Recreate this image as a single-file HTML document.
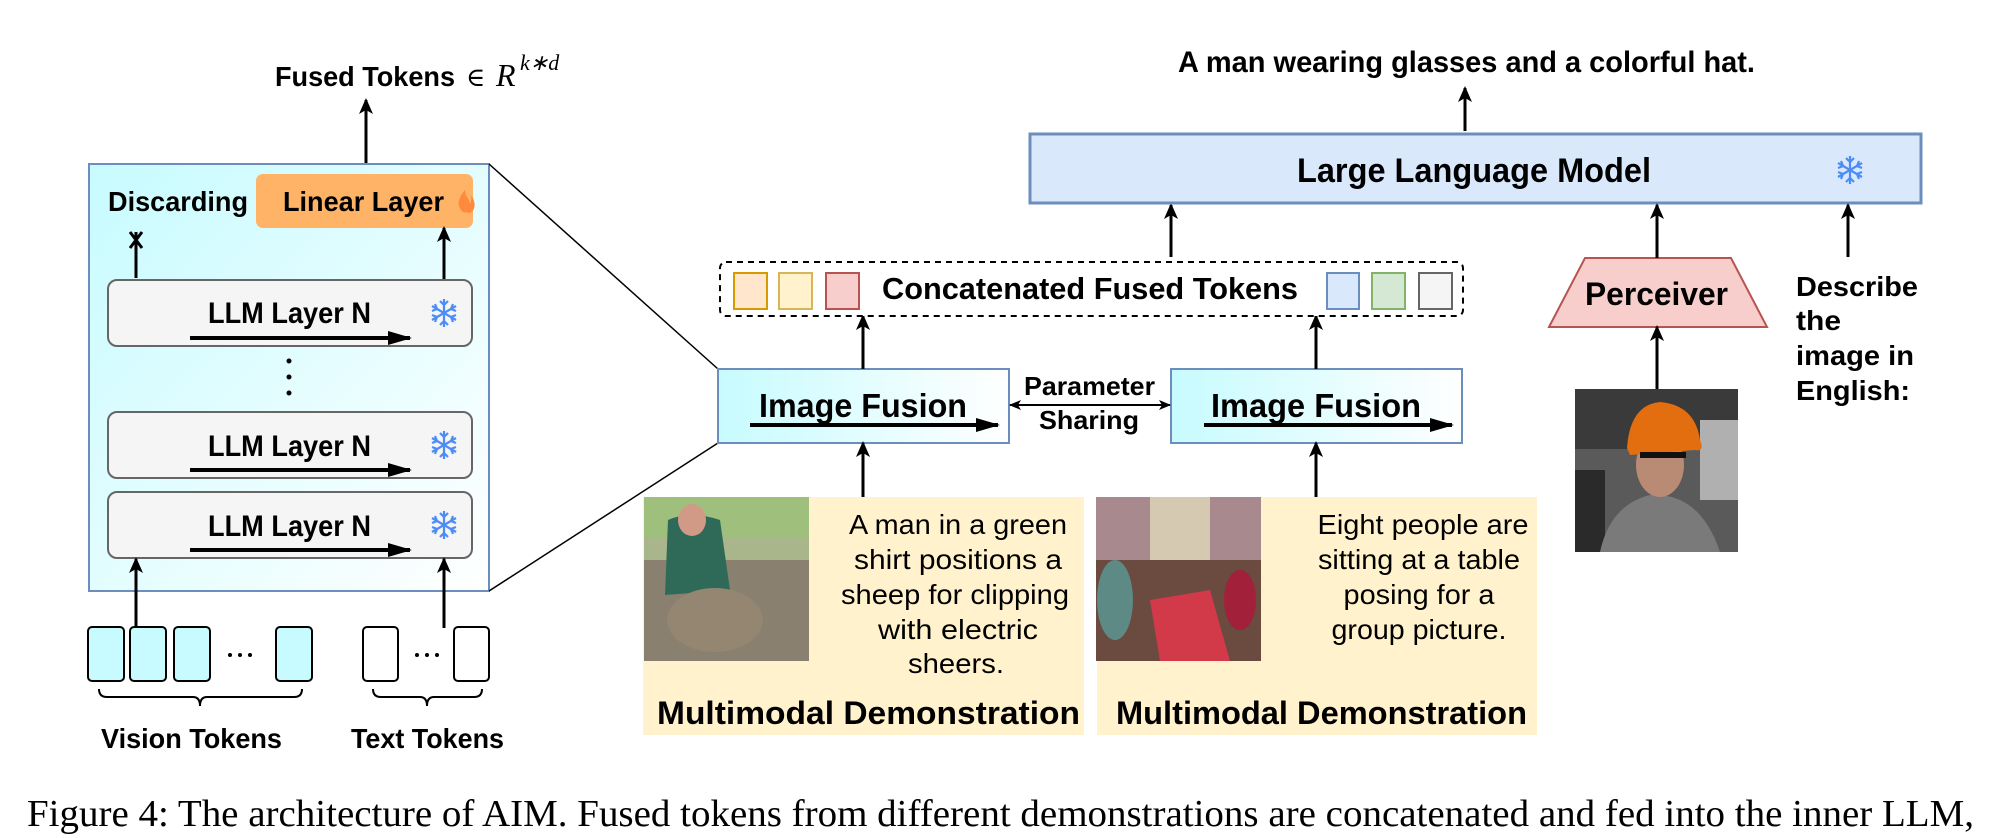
<!DOCTYPE html>
<html><head><meta charset="utf-8"><style>
html,body{margin:0;padding:0;background:#fff;}
svg{display:block;}
.b{font-family:"Liberation Sans",sans-serif;font-weight:bold;fill:#000;}
.n{font-family:"Liberation Sans",sans-serif;fill:#000;}
</style></head><body>
<svg width="2012" height="838" viewBox="0 0 2012 838" xmlns="http://www.w3.org/2000/svg">
<defs>
<marker id="ah" markerWidth="16" markerHeight="16" refX="14" refY="8" orient="auto" markerUnits="userSpaceOnUse" viewBox="0 0 16 16">
<path d="M0,1 L16,8 L0,15 L4,8 z" fill="#000"/></marker>
<marker id="ah2" markerWidth="12" markerHeight="12" refX="11" refY="6" orient="auto" markerUnits="userSpaceOnUse" viewBox="0 0 12 12">
<path d="M0,1 L12,6 L0,11 L3,6 z" fill="#000"/></marker>
<marker id="ahs" markerWidth="24" markerHeight="20" refX="22" refY="10" orient="auto" markerUnits="userSpaceOnUse" viewBox="0 0 24 20">
<path d="M0,3 L24,10 L0,17 L0,10 z" fill="#000"/></marker>
<linearGradient id="cy" x1="0" y1="0" x2="1" y2="1"><stop offset="0" stop-color="#c7fbff"/><stop offset="1" stop-color="#ffffff"/></linearGradient>
<linearGradient id="cy2" x1="0" y1="0" x2="1" y2="0"><stop offset="0" stop-color="#c7fbff"/><stop offset="1" stop-color="#ffffff"/></linearGradient>
<g id="snow" stroke="#4c8cf5" stroke-width="2.2" fill="none">
<line x1="0" y1="-14" x2="0" y2="14"/><line x1="-12" y1="-7" x2="12" y2="7"/><line x1="-12" y1="7" x2="12" y2="-7"/>
<path d="M-4,-12 L0,-8 L4,-12 M-4,12 L0,8 L4,12 M-12,-2 L-7,-4 L-9,-9 M12,2 L7,4 L9,9 M-12,2 L-7,4 L-9,9 M12,-2 L7,-4 L9,-9"/>
</g>
</defs>

<text class="b" x="275" y="86" font-size="28" textLength="180" lengthAdjust="spacingAndGlyphs">Fused Tokens</text>
<text x="466" y="86" font-family="DejaVu Serif,serif" font-size="26">∈</text>
<text x="496" y="86" font-family="Liberation Serif,serif" font-style="italic" font-size="32">R</text>
<text x="520" y="70" font-family="Liberation Serif,serif" font-style="italic" font-size="22">k∗d</text>
<line x1="366" y1="171" x2="366" y2="100" stroke="#000" stroke-width="3" marker-end="url(#ah)"/>

<rect x="89" y="164" width="400" height="427" fill="url(#cy)" stroke="#6c8ebf" stroke-width="2"/>
<rect x="256" y="174" width="217" height="54" rx="7" fill="#ffb366"/>
<text class="b" x="283" y="211" font-size="28" textLength="161" lengthAdjust="spacingAndGlyphs">Linear Layer</text>
<path d="M463,212 C456,206 458,198 465,190 C465,197 470,199 470,204 C472,200 471,196 471,195 C476,202 476,210 470,213 Z" fill="#ff8a3d"/>
<text class="b" x="108" y="211" font-size="28" textLength="140" lengthAdjust="spacingAndGlyphs">Discarding</text>
<line x1="136" y1="278" x2="136" y2="232" stroke="#000" stroke-width="3"/>
<path d="M130,232 L142,248 M142,232 L130,248" stroke="#000" stroke-width="3"/>
<line x1="444" y1="280" x2="444" y2="228" stroke="#000" stroke-width="3" marker-end="url(#ah)"/>

<g>
<rect x="108" y="280" width="364" height="66" rx="9" fill="#f5f5f5" stroke="#666" stroke-width="2"/>
<text class="b" x="208" y="323" font-size="30" textLength="163" lengthAdjust="spacingAndGlyphs">LLM Layer N</text>
<line x1="190" y1="338" x2="410" y2="338" stroke="#000" stroke-width="4" marker-end="url(#ahs)"/>
<use href="#snow" x="444" y="313"/>
</g>
<g>
<rect x="108" y="412" width="364" height="66" rx="9" fill="#f5f5f5" stroke="#666" stroke-width="2"/>
<text class="b" x="208" y="456" font-size="30" textLength="163" lengthAdjust="spacingAndGlyphs">LLM Layer N</text>
<line x1="190" y1="470" x2="410" y2="470" stroke="#000" stroke-width="4" marker-end="url(#ahs)"/>
<use href="#snow" x="444" y="445"/>
</g>
<g>
<rect x="108" y="492" width="364" height="66" rx="9" fill="#f5f5f5" stroke="#666" stroke-width="2"/>
<text class="b" x="208" y="536" font-size="30" textLength="163" lengthAdjust="spacingAndGlyphs">LLM Layer N</text>
<line x1="190" y1="550" x2="410" y2="550" stroke="#000" stroke-width="4" marker-end="url(#ahs)"/>
<use href="#snow" x="444" y="525"/>
</g>
<circle cx="289" cy="361" r="2.5"/><circle cx="289" cy="377" r="2.5"/><circle cx="289" cy="393" r="2.5"/>

<line x1="136" y1="628" x2="136" y2="559" stroke="#000" stroke-width="3" marker-end="url(#ah)"/>
<line x1="444" y1="628" x2="444" y2="559" stroke="#000" stroke-width="3" marker-end="url(#ah)"/>

<g fill="#c7fbff" stroke="#000" stroke-width="2">
<rect x="88" y="627" width="36" height="54" rx="4"/>
<rect x="130" y="627" width="36" height="54" rx="4"/>
<rect x="174" y="627" width="36" height="54" rx="4"/>
<rect x="276" y="627" width="36" height="54" rx="4"/>
</g>
<circle cx="230" cy="655" r="2"/><circle cx="240" cy="655" r="2"/><circle cx="250" cy="655" r="2"/>
<g fill="#fff" stroke="#000" stroke-width="2">
<rect x="363" y="627" width="35" height="54" rx="4"/>
<rect x="454" y="627" width="35" height="54" rx="4"/>
</g>
<circle cx="417" cy="655" r="2"/><circle cx="427" cy="655" r="2"/><circle cx="437" cy="655" r="2"/>
<path d="M99,689 Q99,697 107,697 L193,697 Q200,697 200,706 Q200,697 207,697 L294,697 Q302,697 302,689" fill="none" stroke="#000" stroke-width="2"/>
<path d="M373,689 Q373,697 381,697 L420,697 Q427,697 427,706 Q427,697 434,697 L474,697 Q482,697 482,689" fill="none" stroke="#000" stroke-width="2"/>
<text class="b" x="101" y="748" font-size="28" textLength="181" lengthAdjust="spacingAndGlyphs">Vision Tokens</text>
<text class="b" x="351" y="748" font-size="28" textLength="153" lengthAdjust="spacingAndGlyphs">Text Tokens</text>

<line x1="489" y1="164" x2="718" y2="369" stroke="#000" stroke-width="1.5"/>
<line x1="489" y1="591" x2="718" y2="443" stroke="#000" stroke-width="1.5"/>

<rect x="718" y="369" width="291" height="74" fill="url(#cy2)" stroke="#6c8ebf" stroke-width="2"/>
<text class="b" x="759" y="417" font-size="33" textLength="208" lengthAdjust="spacingAndGlyphs">Image Fusion</text>
<line x1="750" y1="425" x2="998" y2="425" stroke="#000" stroke-width="4" marker-end="url(#ahs)"/>
<rect x="1171" y="369" width="291" height="74" fill="url(#cy2)" stroke="#6c8ebf" stroke-width="2"/>
<text class="b" x="1211" y="417" font-size="33" textLength="210" lengthAdjust="spacingAndGlyphs">Image Fusion</text>
<line x1="1204" y1="425" x2="1452" y2="425" stroke="#000" stroke-width="4" marker-end="url(#ahs)"/>

<text class="b" x="1024" y="395" font-size="26" textLength="131" lengthAdjust="spacingAndGlyphs">Parameter</text>
<text class="b" x="1039" y="429" font-size="26" textLength="100" lengthAdjust="spacingAndGlyphs">Sharing</text>
<line x1="1090" y1="405" x2="1170" y2="405" stroke="#000" stroke-width="2" marker-end="url(#ah2)"/>
<line x1="1090" y1="405" x2="1010" y2="405" stroke="#000" stroke-width="2" marker-end="url(#ah2)"/>

<line x1="863" y1="369" x2="863" y2="316" stroke="#000" stroke-width="3" marker-end="url(#ah)"/>
<line x1="863" y1="497" x2="863" y2="443" stroke="#000" stroke-width="3" marker-end="url(#ah)"/>
<line x1="1316" y1="369" x2="1316" y2="316" stroke="#000" stroke-width="3" marker-end="url(#ah)"/>
<line x1="1316" y1="497" x2="1316" y2="443" stroke="#000" stroke-width="3" marker-end="url(#ah)"/>

<rect x="720" y="262" width="743" height="54" rx="6" fill="#fff" stroke="#000" stroke-width="2" stroke-dasharray="6,5"/>
<rect x="734" y="273" width="33" height="36" fill="#ffe6cc" stroke="#d79b00" stroke-width="2"/>
<rect x="779" y="273" width="33" height="36" fill="#fff2cc" stroke="#d6b656" stroke-width="2"/>
<rect x="826" y="273" width="33" height="36" fill="#f8cecc" stroke="#b85450" stroke-width="2"/>
<text class="b" x="882" y="299" font-size="31" textLength="416" lengthAdjust="spacingAndGlyphs">Concatenated Fused Tokens</text>
<rect x="1327" y="273" width="32" height="36" fill="#dae8fc" stroke="#6c8ebf" stroke-width="2"/>
<rect x="1372" y="273" width="33" height="36" fill="#d5e8d4" stroke="#82b366" stroke-width="2"/>
<rect x="1419" y="273" width="33" height="36" fill="#f5f5f5" stroke="#666" stroke-width="2"/>

<line x1="1171" y1="257" x2="1171" y2="205" stroke="#000" stroke-width="3" marker-end="url(#ah)"/>

<rect x="1030" y="134" width="891" height="69" fill="#dae8fc" stroke="#6c8ebf" stroke-width="3"/>
<text class="b" x="1297" y="182" font-size="34" textLength="354" lengthAdjust="spacingAndGlyphs">Large Language Model</text>
<use href="#snow" x="1850" y="170"/>
<line x1="1465" y1="131" x2="1465" y2="88" stroke="#000" stroke-width="3" marker-end="url(#ah)"/>
<text class="b" x="1178" y="72" font-size="30" textLength="577" lengthAdjust="spacingAndGlyphs">A man wearing glasses and a colorful hat.</text>

<polygon points="1585,258 1731,258 1767,327 1549,327" fill="#f8cecc" stroke="#b85450" stroke-width="2"/>
<text class="b" x="1585" y="305" font-size="32" textLength="143" lengthAdjust="spacingAndGlyphs">Perceiver</text>
<line x1="1657" y1="258" x2="1657" y2="205" stroke="#000" stroke-width="3" marker-end="url(#ah)"/>
<line x1="1657" y1="389" x2="1657" y2="327" stroke="#000" stroke-width="3" marker-end="url(#ah)"/>
<line x1="1848" y1="257" x2="1848" y2="205" stroke="#000" stroke-width="3" marker-end="url(#ah)"/>
<g class="b" font-size="28">
<text x="1796" y="296" textLength="122" lengthAdjust="spacingAndGlyphs">Describe</text>
<text x="1796" y="330" textLength="45" lengthAdjust="spacingAndGlyphs">the</text>
<text x="1796" y="365" textLength="118" lengthAdjust="spacingAndGlyphs">image in</text>
<text x="1796" y="400" textLength="114" lengthAdjust="spacingAndGlyphs">English:</text>
</g>

<rect x="1575" y="389" width="163" height="163" fill="#5a5a5a"/>
<rect x="1575" y="389" width="163" height="60" fill="#3a3a3a"/>
<rect x="1700" y="420" width="38" height="80" fill="#b0b0b0"/>
<rect x="1575" y="470" width="30" height="82" fill="#2a2a2a"/>
<path d="M1600,552 Q1610,505 1650,495 Q1700,492 1720,552 Z" fill="#7a7a7a"/>
<ellipse cx="1660" cy="465" rx="24" ry="32" fill="#b98a74"/>
<path d="M1627,448 Q1630,405 1660,402 Q1695,405 1700,440 Q1705,452 1695,450 L1630,455 Z" fill="#e36e10"/>
<rect x="1640" y="452" width="46" height="6" fill="#111"/>

<rect x="643" y="497" width="441" height="238" fill="#fff2cc"/>
<rect x="644" y="497" width="165" height="164" fill="#a9b58a"/>
<rect x="644" y="497" width="165" height="40" fill="#9fc07d"/>
<rect x="644" y="560" width="165" height="101" fill="#8a8070"/>
<path d="M668,520 Q690,510 720,520 L730,590 L665,595 Z" fill="#2f6a58"/>
<ellipse cx="692" cy="520" rx="14" ry="16" fill="#d09a86"/>
<ellipse cx="715" cy="620" rx="48" ry="32" fill="#948670"/>
<g class="n" font-size="28" text-anchor="middle">
<text x="958" y="534" textLength="218" lengthAdjust="spacingAndGlyphs">A man in a green</text>
<text x="958" y="569" textLength="208" lengthAdjust="spacingAndGlyphs">shirt positions a</text>
<text x="955" y="604" textLength="228" lengthAdjust="spacingAndGlyphs">sheep for clipping</text>
<text x="958" y="639" textLength="160" lengthAdjust="spacingAndGlyphs">with electric</text>
<text x="956" y="673" textLength="96" lengthAdjust="spacingAndGlyphs">sheers.</text>
</g>
<text class="b" x="657" y="724" font-size="32" textLength="423" lengthAdjust="spacingAndGlyphs">Multimodal Demonstration</text>

<rect x="1097" y="497" width="440" height="238" fill="#fff2cc"/>
<rect x="1096" y="497" width="165" height="164" fill="#a88a8e"/>
<rect x="1150" y="497" width="60" height="80" fill="#d6c9b2"/>
<rect x="1096" y="560" width="165" height="101" fill="#6b4a40"/>
<polygon points="1150,600 1210,590 1230,661 1160,661" fill="#d23a4a"/>
<ellipse cx="1115" cy="600" rx="18" ry="40" fill="#5e8a86"/>
<ellipse cx="1240" cy="600" rx="16" ry="30" fill="#a3203a"/>
<g class="n" font-size="28" text-anchor="middle">
<text x="1423" y="534" textLength="211" lengthAdjust="spacingAndGlyphs">Eight people are</text>
<text x="1419" y="569" textLength="202" lengthAdjust="spacingAndGlyphs">sitting at a table</text>
<text x="1419" y="604" textLength="151" lengthAdjust="spacingAndGlyphs">posing for a</text>
<text x="1419" y="639" textLength="175" lengthAdjust="spacingAndGlyphs">group picture.</text>
</g>
<text class="b" x="1116" y="724" font-size="32" textLength="411" lengthAdjust="spacingAndGlyphs">Multimodal Demonstration</text>

<text x="27" y="826" font-family="Liberation Serif,serif" font-size="38" textLength="1947" lengthAdjust="spacingAndGlyphs">Figure 4: The architecture of AIM. Fused tokens from different demonstrations are concatenated and fed into the inner LLM,</text>
</svg>
</body></html>
